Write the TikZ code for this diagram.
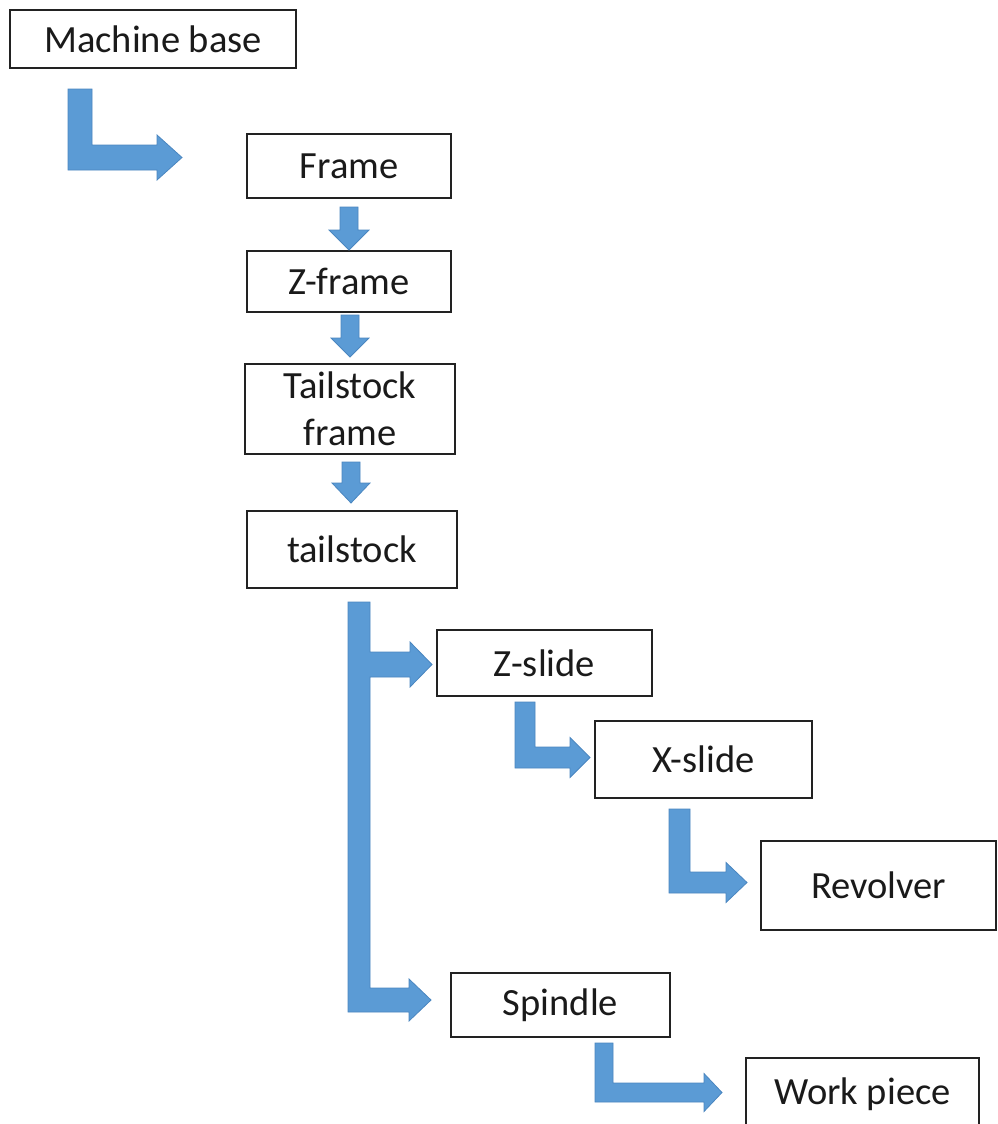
\documentclass[tikz,border=0pt]{standalone}
\usepackage{fontspec}
\setmainfont{Carlito}
\definecolor{arrowblue}{HTML}{5B9BD5}
\definecolor{arrowedge}{HTML}{4A86C0}
\definecolor{boxline}{HTML}{222222}
\definecolor{textcol}{HTML}{1A1A1A}
\tikzset{
  box/.style={draw=boxline, line width=2pt, fill=white, inner sep=0pt, text=textcol,
    font=\fontsize{38.5}{47}\selectfont, align=center},
  blockarrow/.style={fill=arrowblue, draw=arrowedge, line width=0.8pt, line join=miter}
}
\newcommand\elbowarrow[8]{%
  \filldraw[blockarrow] (#1,#3) -- (#2,#3) -- (#2,#4) -- (#6,#4) -- (#6,{(#4+#5)/2-#8})
  -- (#7,{(#4+#5)/2}) -- (#6,{(#4+#5)/2+#8}) -- (#6,#5) -- (#1,#5) -- cycle;}
\newcommand\downarrowblock[6]{%
  \filldraw[blockarrow] ({#1-#2},#3) -- ({#1+#2},#3) -- ({#1+#2},#4) -- ({#1+#5},#4)
  -- (#1,#6) -- ({#1-#5},#4) -- ({#1-#2},#4) -- cycle;}
\begin{document}
\begin{tikzpicture}[x=1pt,y=-1pt]
\useasboundingbox (0,0) rectangle (997,1124);
\clip (0,0) rectangle (997,1124);
\fill[white] (0,0) rectangle (997,1124);
% boxes
\node[box, minimum width=286pt, minimum height=58pt] (mb) at (153,39) {Machine base};
\node[box, minimum width=204pt, minimum height=64pt] (fr) at (349,166) {Frame};
\node[box, minimum width=204pt, minimum height=61pt] (zf) at (349,281.5) {Z-frame};
\node[box, minimum width=210pt, minimum height=90pt] (tf) at (350,409) {Tailstock\\frame};
\node[box, minimum width=210pt, minimum height=77pt] (ts) at (352,549.5) {tailstock};
\node[box, minimum width=215pt, minimum height=66pt] (zs) at (544.5,663) {Z-slide};
\node[box, minimum width=217pt, minimum height=77pt] (xs) at (703.5,759.5) {X-slide};
\node[box, minimum width=235pt, minimum height=89pt] (rv) at (878.5,885.5) {Revolver};
\node[box, minimum width=219pt, minimum height=64pt] (sp) at (560.5,1005) {Spindle};
\node[box, minimum width=233pt, minimum height=72pt] (wp) at (862.5,1094) {Work piece};
% arrows
\elbowarrow{68}{92}{89}{145}{170}{157}{182}{22.5}
\downarrowblock{349}{9}{207}{230}{20}{250}
\downarrowblock{350}{9}{315}{338}{19}{357}
\downarrowblock{351}{9}{462}{483}{19}{503}
\filldraw[blockarrow] (348,602) -- (370,602) -- (370,652) -- (410,652) -- (410,642)
  -- (432,664.5) -- (410,687) -- (410,677) -- (370,677) -- (370,988) -- (409,988)
  -- (409,979) -- (431,1000) -- (409,1021) -- (409,1012) -- (348,1012) -- cycle;
\elbowarrow{515}{535}{702}{747}{768}{570}{590}{20}
\elbowarrow{669}{690}{809}{872}{893}{726}{747}{20}
\elbowarrow{595}{613}{1043}{1083}{1102}{704}{722}{19}
\end{tikzpicture}
\end{document}
